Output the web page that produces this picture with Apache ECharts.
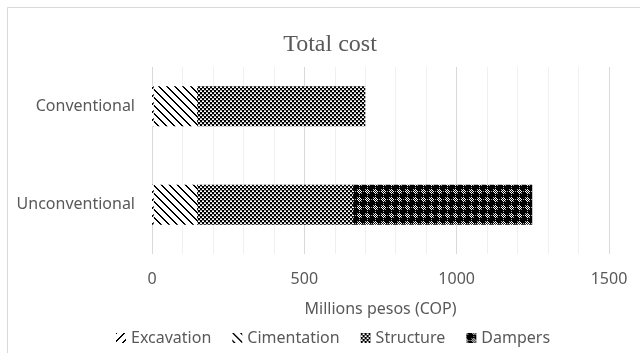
<!DOCTYPE html>
<html>
<head>
<meta charset="utf-8">
<script src="https://cdn.jsdelivr.net/npm/echarts@6/dist/echarts.min.js"></script>
<style>
  html, body { margin: 0; padding: 0; background: #fff; }
  #chart { width: 640px; height: 353px; }
</style>
</head>
<body>
<div id="chart"></div>
<script>
// Cost breakdown per building type (millions of COP)
const categories = ['Unconventional', 'Conventional'];
const excavation = [6, 6];
const cimentation = [142, 142];
const structure = [512, 552];
const dampers = [588, 0];
const seriesNames = ['Excavation', 'Cimentation', 'Structure', 'Dampers'];
const xTicks = [0, 500, 1000, 1500];

// Monochrome hatch tiles
function tile(w, h, paint) {
  const c = document.createElement('canvas');
  c.width = w; c.height = h;
  const ctx = c.getContext('2d');
  ctx.fillStyle = '#fff';
  ctx.fillRect(0, 0, w, h);
  ctx.fillStyle = '#000';
  paint(ctx, w, h);
  return { image: c, repeat: 'repeat' };
}
const upDiag = tile(8, 8, (ctx) => {
  for (let i = 0; i < 8; i++) {
    ctx.fillRect((7 - i + 8) % 8, i, 1, 1);
    ctx.fillRect((8 - i) % 8, i, 1, 1);
  }
});
const downDiag = tile(8, 8, (ctx) => {
  for (let i = 0; i < 8; i++) {
    ctx.fillRect(i, i, 1, 1);
    ctx.fillRect((i + 1) % 8, i, 1, 1);
  }
});
const checker = tile(4, 4, (ctx) => {
  ctx.fillRect(0, 0, 2, 2);
  ctx.fillRect(2, 2, 2, 2);
  ctx.fillStyle = 'rgba(0,0,0,0.35)';
  ctx.fillRect(2, 0, 2, 1);
  ctx.fillRect(0, 2, 2, 1);
});
const crosses = tile(8, 8, (ctx) => {
  // dark field of crosses with small light gaps between them
  ctx.fillRect(0, 0, 8, 8);
  ctx.fillStyle = '#fff';
  [[6,6],[0,6],[7,7],[6,0],[0,0],[7,1],[1,7],[7,5],[5,7]].forEach(([x, y]) => ctx.fillRect(x, y, 1, 1));
  ctx.fillStyle = '#aaa';
  [[7,3],[3,7],[1,1],[5,5]].forEach(([x, y]) => ctx.fillRect(x, y, 1, 1));
});
const fills = [upDiag, downDiag, checker, crosses];
const values = [excavation, cimentation, structure, dampers];

const textColor = '#595959';
const font = 'Noto Sans';

const chart = echarts.init(document.getElementById('chart'), null, { renderer: 'canvas' });
chart.setOption({
  animation: false,
  backgroundColor: '#fff',
  title: {
    text: 'Total cost',
    left: 325, top: 28, textAlign: 'center',
    textStyle: { fontFamily: 'Liberation Serif', fontSize: 24, fontWeight: 'normal', color: textColor }
  },
  graphic: [{
    type: 'rect', silent: true, z: -10,
    shape: { x: 7.5, y: 7.5, width: 720, height: 420 },
    style: { fill: null, stroke: '#d9d9d9', lineWidth: 1 }
  }],
  legend: {
    left: 111, bottom: 2,
    itemWidth: 10, itemHeight: 10, itemGap: 21,
    icon: 'rect',
    textStyle: { fontFamily: font, fontSize: 16, color: textColor },
    data: seriesNames
  },
  grid: [
    { left: 152, right: 31, top: 57, height: 197 },
    { left: 152, right: 31, top: 67, height: 187 }
  ],
  xAxis: [
    {
      gridIndex: 0, type: 'value', min: xTicks[0], max: xTicks[xTicks.length - 1], interval: 500,
      axisLine: { show: false }, axisTick: { show: false }, splitLine: { show: false },
      axisLabel: { margin: 17, fontFamily: font, fontSize: 16, color: textColor, formatter: (v) => String(v) },
      name: 'Millions pesos (COP)', nameLocation: 'middle', nameGap: 47,
      nameTextStyle: { fontFamily: font, fontSize: 16, color: textColor }
    },
    {
      gridIndex: 1, type: 'value', min: xTicks[0], max: xTicks[xTicks.length - 1], interval: 500,
      axisLine: { show: false }, axisTick: { show: false }, axisLabel: { show: false },
      splitLine: { show: true, lineStyle: { color: '#d9d9d9', width: 1 } },
      minorTick: { show: false, splitNumber: 5 },
      minorSplitLine: { show: true, lineStyle: { color: '#f0f0f0', width: 1 } }
    }
  ],
  yAxis: [
    {
      gridIndex: 0, type: 'category', data: categories,
      axisLine: { show: false }, axisTick: { show: false },
      axisLabel: { margin: 17, fontFamily: font, fontSize: 16, color: textColor }
    },
    { gridIndex: 1, type: 'value', show: false, min: 0, max: 1 }
  ],
  series: seriesNames.map((name, i) => ({
    name, type: 'bar', stack: 'total', xAxisIndex: 0, yAxisIndex: 0,
    barWidth: 40,
    itemStyle: { color: fills[i] },
    data: values[i]
  }))
});
</script>
</body>
</html>
